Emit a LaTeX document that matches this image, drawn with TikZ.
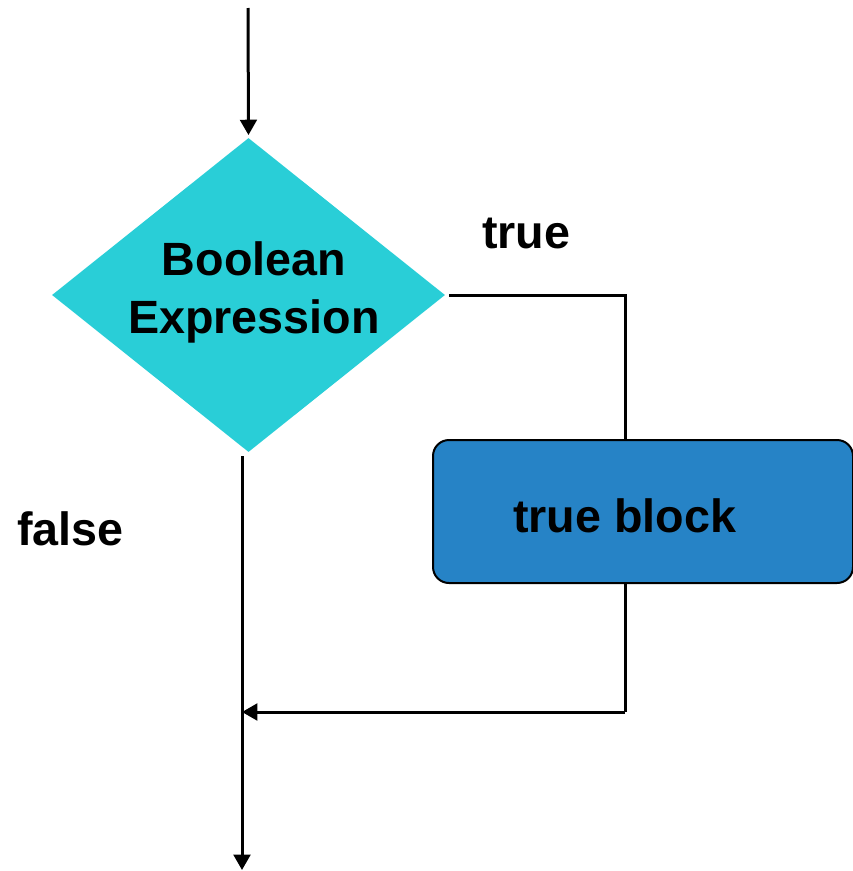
\documentclass[tikz,border=0pt]{standalone}
\usepackage{fontspec}
\setmainfont{Liberation Sans}
\usetikzlibrary{shapes.geometric,arrows.meta,calc}
\definecolor{decisionfill}{HTML}{29CED7}
\definecolor{blockfill}{HTML}{2683C6}
\tikzset{
  flowline/.style={line width=2.25pt, line cap=butt, line join=miter},
  flowarrow/.style={flowline, -{Triangle[length=11.5pt,width=12.5pt]}},
  decision/.style={diamond, fill=decisionfill, inner sep=0pt,
    minimum width=294.75pt, minimum height=235.5pt},
  blockbox/.style={rectangle, rounded corners=12pt, fill=blockfill,
    draw=black, line width=1.5pt, minimum width=315pt, minimum height=107.25pt},
  lbl/.style={font=\fontsize{35}{43.5}\selectfont\bfseries, inner sep=0pt}
}
\begin{document}
\begin{tikzpicture}[x=0.75pt,y=-0.75pt]
  \useasboundingbox (0,0) rectangle (853,871);
  % shapes
  \node[decision] (dia) at (248.5,295) {};
  \node[lbl, align=center, anchor=base] (cond) at (254,333) {Boolean\\Expression};
  \node[blockbox] (box) at (643,511.5) {};
  \node[lbl, anchor=base west] (blk) at (513,532) {true block};
  \node[lbl, anchor=base west] (ttrue) at (482,248) {true};
  \node[lbl, anchor=base west] (tfalse) at (17,545) {false};
  % junction points
  \coordinate (in) at (248,8);
  \coordinate (jr) at (625,712);
  \coordinate (out) at (242,870);
  % connectors
  \draw[flowarrow, shorten >=2pt] (in) -- (dia.north);
  \draw[flowline, shorten <=3pt] (dia.east) -| (box.north -| jr);
  \draw[flowline] (box.south -| jr) -- (jr);
  \draw[flowarrow] (jr) -- (jr -| out);
  \draw[flowarrow] ([yshift=-3pt]dia.south -| out) -- (out);
\end{tikzpicture}
\end{document}
